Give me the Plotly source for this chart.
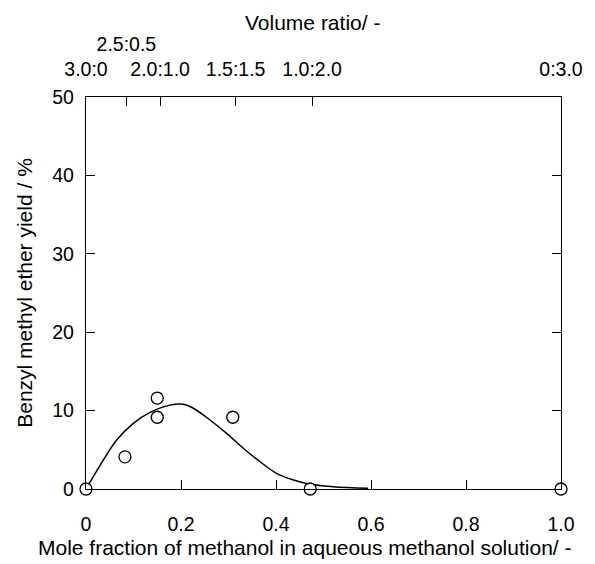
import plotly.graph_objects as go

# Measured data points
x_pts = [0.0, 0.082, 0.150, 0.150, 0.309, 0.472, 1.0]
y_pts = [0.0, 4.1, 11.6, 9.15, 9.15, 0.0, 0.0]

# Fitted curve
x_fit = [0.0, 0.0154, 0.0366, 0.0646, 0.0996, 0.135, 0.177, 0.205, 0.226, 0.261,
         0.296, 0.331, 0.366, 0.401, 0.437, 0.472, 0.52, 0.594]
y_fit = [0.0, 1.57, 3.7, 6.25, 8.38, 9.78, 10.7, 10.8, 10.3, 8.8,
         7.1, 5.2, 3.5, 2.0, 1.15, 0.6, 0.3, 0.1]

# Top axis: volume ratio (water:methanol) positions in mole fraction
top_tick_pos = [0.0, 0.085, 0.156, 0.315, 0.476, 1.0]
top_tick_text = ["3.0:0", "2.5:0.5<br> ", "2.0:1.0", "1.5:1.5", "1.0:2.0", "0:3.0"]

bottom_ticks = [0, 0.2, 0.4, 0.6, 0.8, 1.0]
bottom_text = ["0", "0.2", "0.4", "0.6", "0.8", "1.0"]
y_ticks = [0, 10, 20, 30, 40, 50]

x_title = "Mole fraction of methanol in aqueous methanol solution/ -"
x2_title = "Volume ratio/ -"
y_title = "Benzyl methyl ether yield / %"

tick_font = dict(family="Liberation Sans, Arial, sans-serif", size=19.5, color="black")
title_font = dict(family="Liberation Sans, Arial, sans-serif", size=21, color="black")

fig = go.Figure()
fig.add_trace(go.Scatter(x=x_fit, y=y_fit, mode="lines", line=dict(color="black", width=1.5, shape="spline"),
                         cliponaxis=False, showlegend=False))
fig.add_trace(go.Scatter(x=x_pts, y=y_pts, mode="markers",
                         marker=dict(symbol="circle", size=12, color="white", line=dict(color="black", width=1.3)),
                         cliponaxis=False, showlegend=False))
# invisible trace to activate top axis
fig.add_trace(go.Scatter(x=[0, 1], y=[0, 0], xaxis="x2", mode="markers", marker=dict(opacity=0),
                         showlegend=False, hoverinfo="skip"))

common = dict(ticks="inside", ticklen=9, tickcolor="black", tickwidth=1.3, showline=True, linecolor="black",
              linewidth=1.3, showgrid=False, zeroline=False, automargin=False, tickangle=0, tickfont=tick_font)

fig.update_layout(
    width=595, height=564,
    margin=dict(l=86, r=34, t=97, b=75),
    paper_bgcolor="white", plot_bgcolor="white",
    font=tick_font,
    xaxis=dict(range=[0, 1], tickvals=bottom_ticks, ticktext=bottom_text, ticklabelstandoff=17, **common),
    xaxis2=dict(range=[0, 1], overlaying="x", side="top", tickvals=top_tick_pos, ticktext=top_tick_text,
                ticklabelstandoff=12, **common),
    yaxis=dict(range=[0, 50], tickvals=y_ticks, mirror="ticks", ticklabelstandoff=7,
               title=dict(text=y_title, font=title_font, standoff=13), **common),
    annotations=[
        dict(text=x_title, xref="paper", yref="paper", x=0.461, y=-0.1505, xanchor="center", yanchor="middle",
             showarrow=False, font=title_font),
        dict(text=x2_title, xref="paper", yref="paper", x=0.476, y=1.191, xanchor="center", yanchor="middle",
             showarrow=False, font=title_font),
    ],
)

fig.write_html("out.html", config={"displayModeBar": False},
               post_script="document.body.style.margin='0px';")
